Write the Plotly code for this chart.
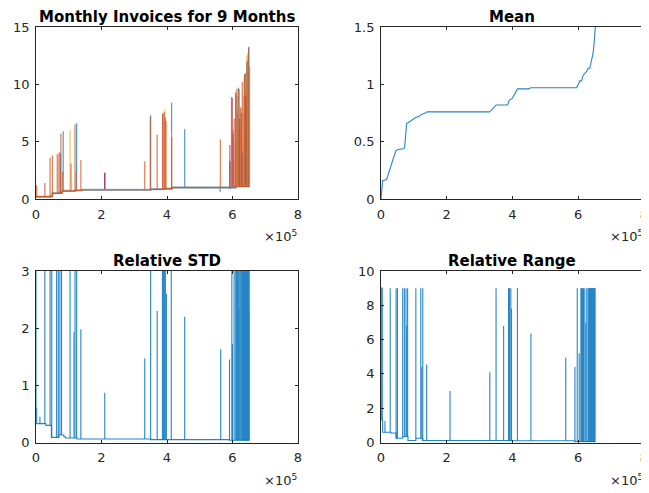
import numpy as np
import plotly.graph_objects as go

# x values are in units of 1e5 (axis shows x10^5)
SCALE = 1e5

# ---------- Panel 1: Monthly invoices (9 series, spikes + baseline) ----------
inv_base_x = [0, 0.05, 0.45, 0.5, 0.75, 0.8, 1.2, 1.4, 3.5, 3.9, 4.15, 5.95, 6.1, 6.5]
inv_base_y = [0.2, 0.2, 0.25, 0.5, 0.55, 0.7, 0.75, 0.8, 0.85, 0.9, 1.0, 1.0, 1.1, 1.2]

inv_blue_x = [0.75, 0.83, 1.24, 3.5, 3.95, 4.14, 4.54, 5.62, 5.92, 6.1, 6.18, 6.3, 6.37, 6.43, 6.49]
inv_blue_h = [4.0, 5.9, 6.6, 7.3, 7.1, 8.4, 6.1, 0.6, 3.3, 9.2, 9.7, 4.0, 10.9, 12.0, 13.2]
inv_yellow_x = [1.04, 3.93, 4.14, 6.2, 6.35, 6.44]
inv_yellow_h = [6.0, 7.8, 5.8, 9.5, 10.5, 12.5]
inv_purple_x = [2.1, 5.92, 6.02, 6.27]
inv_purple_h = [2.3, 4.7, 5.7, 7.5]
inv_green_x = [5.93, 6.3]
inv_green_h = [0.8, 1.5]
inv_lightblue_x = [6.15, 6.47]
inv_lightblue_h = [9.0, 12.2]
inv_red_x = [2.1, 3.87, 5.99, 6.22, 6.4]
inv_red_h = [2.3, 7.4, 8.8, 7.0, 9.0]
inv_orange_x = [0.02, 0.27, 0.43, 0.5, 0.65, 0.7, 0.73, 0.76, 0.81, 1.07, 1.19, 1.22, 1.37,
                3.32, 3.49, 3.7, 3.88, 3.92, 3.97, 4.14, 5.63, 5.92, 5.97, 6.02, 6.05, 6.06,
                6.08, 6.1, 6.12, 6.13, 6.15, 6.16, 6.19, 6.2, 6.23, 6.25, 6.26, 6.28, 6.3,
                6.32, 6.33, 6.35, 6.37, 6.39, 6.4, 6.42, 6.44, 6.45, 6.47, 6.48, 6.5, 6.52]
inv_orange_h = [1.2, 1.4, 3.6, 3.8, 3.9, 4.0, 4.1, 5.7, 2.4, 3.1, 6.5, 2.4, 3.4,
                3.3, 7.1, 5.6, 7.5, 7.6, 6.8, 5.4, 5.2, 3.3, 8.9, 6.0, 7.0, 3.2,
                5.0, 9.3, 8.0, 9.6, 7.5, 5.0, 6.0, 9.6, 7.8, 8.0, 7.9, 6.0, 10.2,
                9.0, 4.5, 7.5, 10.9, 8.0, 11.0, 7.8, 9.5, 12.0, 10.0, 12.7, 13.3, 11.5]

# ---------- Panel 2: Mean (step curve) ----------
mean_x = [0, 0.02, 0.05, 0.17, 0.45, 0.5, 0.7, 0.72, 0.78, 0.85, 1.05, 1.15, 1.25, 1.35, 1.4,
          3.3, 3.35, 3.5, 3.85, 3.9, 4.0, 4.15, 4.5, 4.55, 5.95, 6.0, 6.05, 6.1, 6.15,
          6.25, 6.3, 6.35, 6.4, 6.45, 6.48, 6.52]
mean_y = [0.0, 0.1, 0.16, 0.17, 0.42, 0.43, 0.44, 0.45, 0.66, 0.67, 0.71, 0.72, 0.74, 0.75, 0.76,
          0.76, 0.77, 0.82, 0.82, 0.86, 0.88, 0.96, 0.96, 0.97, 0.97, 1.0, 1.03, 1.03, 1.08,
          1.11, 1.14, 1.14, 1.2, 1.27, 1.35, 1.5]

# ---------- Panel 3: Relative STD ----------
std_base_x = [0, 0.02, 0.3, 0.47, 0.7, 0.85, 0.9, 1.25, 3.5, 5.9, 6.52]
std_base_y = [0.6, 0.33, 0.3, 0.09, 0.13, 0.1, 0.08, 0.06, 0.05, 0.04, 0.04]
std_spike_x = [0.0, 0.12, 0.27, 0.43, 0.48, 0.63, 0.68, 0.73, 0.78, 1.04, 1.16, 1.19, 1.24, 1.37,
               2.1, 3.32, 3.5, 3.7, 3.86, 3.89, 3.92, 3.95, 3.98, 4.13, 4.54, 5.64, 5.91, 5.98,
               6.0, 6.05, 6.1, 6.12, 6.15, 6.18, 6.2, 6.22, 6.25, 6.28, 6.3, 6.32, 6.33, 6.34,
               6.35, 6.36, 6.37, 6.38, 6.39, 6.4, 6.41, 6.42, 6.43, 6.44, 6.45, 6.46, 6.47,
               6.48, 6.49, 6.5, 6.51]
std_spike_h = [3.0, 0.45, 3.0, 3.0, 3.0, 3.0, 3.0, 3.0, 3.0, 3.0, 1.93, 3.0, 3.0, 1.98,
               0.87, 1.47, 3.0, 2.3, 3.0, 3.0, 3.0, 3.0, 2.6, 3.0, 2.2, 1.63, 1.45, 3.0,
               1.72, 3.0, 3.0, 3.0, 3.0, 3.0, 2.35, 3.0, 3.0, 3.0, 3.0, 3.0, 3.0, 3.0,
               3.0, 3.0, 3.0, 3.0, 3.0, 3.0, 3.0, 3.0, 3.0, 3.0, 3.0, 3.0, 3.0,
               3.0, 3.0, 2.3, 3.0]

# ---------- Panel 4: Relative Range ----------
rng_base_x = [0, 0.03, 0.05, 0.3, 0.46, 0.66, 0.82, 1.06, 1.27, 3.95, 5.9, 6.52]
rng_base_y = [9.0, 1.3, 0.6, 0.55, 0.25, 0.35, 0.12, 0.25, 0.12, 0.1, 0.05, 0.05]
rng_spike_x = [0.03, 0.12, 0.28, 0.46, 0.5, 0.66, 0.71, 0.76, 0.78, 0.81, 1.06, 1.21, 1.24, 1.27,
               1.39, 2.1, 3.31, 3.5, 3.73, 3.88, 3.91, 3.95, 3.97, 4.15, 4.56, 5.62, 5.9,
               5.97, 6.03, 6.08, 6.1, 6.13, 6.16, 6.2, 6.23, 6.26, 6.3, 6.32, 6.33, 6.34, 6.35,
               6.36, 6.37, 6.38, 6.39, 6.4, 6.41, 6.42, 6.43, 6.44, 6.45, 6.46, 6.47, 6.48,
               6.49, 6.5, 6.51]
rng_spike_h = [9.0, 1.25, 9.0, 9.0, 9.0, 9.0, 9.0, 9.0, 6.8, 9.0, 9.0, 9.0, 4.4, 9.0,
               4.55, 3.0, 4.1, 9.0, 6.8, 9.0, 9.0, 9.0, 7.8, 9.0, 6.35, 4.95, 4.4,
               9.0, 5.2, 9.0, 9.0, 9.0, 9.0, 9.0, 7.0, 9.0, 9.0, 9.0, 9.0, 9.0, 9.0,
               9.0, 9.0, 9.0, 9.0, 9.0, 9.0, 9.0, 9.0, 9.0, 9.0, 9.0, 9.0, 9.0,
               9.0, 9.0, 9.0]

x_ticks = [0, 2, 4, 6, 8]
titles = ["Monthly Invoices for 9 Months", "Mean", "Relative STD", "Relative Range"]

MBLUE = "#0072BD"
MORANGE = "#D95319"
MYELLOW = "#EDB120"
MPURPLE = "#7E2F8E"
MGREEN = "#77AC30"
MLBLUE = "#4DBEEE"
MRED = "#A2142F"


def step_lookup(bx, by, x):
    i = np.searchsorted(np.array(bx), x, side="right") - 1
    i = max(0, min(i, len(by) - 1))
    return by[i]


def spike_xy(xs, hs, bx, by):
    X, Y = [], []
    for x, h in zip(xs, hs):
        b = step_lookup(bx, by, x)
        X += [x * SCALE, x * SCALE, None]
        Y += [b, h, None]
    return X, Y


fig = go.Figure()

# Panel 1
for (xs, hs, col, w) in [
    (inv_blue_x, inv_blue_h, MBLUE, 1.2),
    (inv_yellow_x, inv_yellow_h, MYELLOW, 1.2),
    (inv_purple_x, inv_purple_h, MPURPLE, 1.2),
    (inv_green_x, inv_green_h, MGREEN, 1.2),
    (inv_lightblue_x, inv_lightblue_h, MLBLUE, 1.2),
    (inv_red_x, inv_red_h, MRED, 1.2),
    (inv_orange_x, inv_orange_h, MORANGE, 1.3),
]:
    X, Y = spike_xy(xs, hs, inv_base_x, inv_base_y)
    fig.add_trace(go.Scatter(x=X, y=Y, mode="lines", line=dict(color=col, width=w),
                             opacity=0.7, xaxis="x", yaxis="y", showlegend=False))
fig.add_trace(go.Scatter(x=[v * SCALE for v in inv_base_x], y=inv_base_y, mode="lines",
                         line=dict(color=MLBLUE, width=2.2, shape="hv"), opacity=0.6,
                         xaxis="x", yaxis="y", showlegend=False))
fig.add_trace(go.Scatter(x=[v * SCALE for v in inv_base_x], y=inv_base_y, mode="lines",
                         line=dict(color="#C8501E", width=1.4, shape="hv"), opacity=0.9,
                         xaxis="x", yaxis="y", showlegend=False))

# Panel 2
fig.add_trace(go.Scatter(x=[v * SCALE for v in mean_x], y=mean_y, mode="lines",
                         line=dict(color=MBLUE, width=1.1), opacity=0.85,
                         xaxis="x2", yaxis="y2", showlegend=False))

# Panel 3
fig.add_trace(go.Scatter(x=[v * SCALE for v in std_base_x], y=std_base_y, mode="lines",
                         line=dict(color=MBLUE, width=1.1, shape="hv"), opacity=0.85,
                         xaxis="x3", yaxis="y3", showlegend=False))
X, Y = spike_xy(std_spike_x, std_spike_h, std_base_x, std_base_y)
fig.add_trace(go.Scatter(x=X, y=Y, mode="lines", line=dict(color=MBLUE, width=1.1),
                         opacity=0.85, xaxis="x3", yaxis="y3", showlegend=False))

# Panel 4
fig.add_trace(go.Scatter(x=[v * SCALE for v in rng_base_x], y=rng_base_y, mode="lines",
                         line=dict(color=MBLUE, width=1.1, shape="hv"), opacity=0.85,
                         xaxis="x4", yaxis="y4", showlegend=False))
X, Y = spike_xy(rng_spike_x, rng_spike_h, rng_base_x, rng_base_y)
fig.add_trace(go.Scatter(x=X, y=Y, mode="lines", line=dict(color=MBLUE, width=1.1),
                         opacity=0.85, xaxis="x4", yaxis="y4", showlegend=False))

# The page body has an 8px margin, so the figure is sized to the window minus it
OFF = 8
W, H = 649 - OFF, 493 - OFF
FONT = "DejaVu Sans, Verdana, sans-serif"
AX = "#262626"


def px(v):
    return v - OFF


# pixel boxes in window coordinates: (left, right, top, bottom)
boxes = [(36, 298, 27, 199), (381, 644, 27, 199), (36, 298, 271, 442.5), (381, 644, 271, 442.5)]
title_y = [17, 17, 261, 261]
yranges = [[0, 15], [0, 1.5], [0, 3], [0, 10]]
yticks = [[0, 5, 10, 15], [0, 0.5, 1, 1.5], [0, 1, 2, 3], [0, 2, 4, 6, 8, 10]]

layout = dict(width=W, height=H, autosize=False,
              margin=dict(l=0, r=0, t=0, b=0, pad=0, autoexpand=False),
              paper_bgcolor="white", plot_bgcolor="white",
              font=dict(family=FONT, size=13, color=AX), annotations=[])
for i, (l, r, t, b) in enumerate(boxes):
    sfx = "" if i == 0 else str(i + 1)
    common = dict(showline=True, linecolor=AX, linewidth=0.8, mirror="ticks", ticks="inside",
                  ticklen=3, tickcolor=AX, tickwidth=0.8, showgrid=False, zeroline=False,
                  automargin=False, ticklabeloverflow="allow",
                  tickfont=dict(family=FONT, size=13, color=AX), ticklabelstandoff=3)
    layout["xaxis" + sfx] = dict(domain=[px(l) / W, px(r) / W], range=[0, 8 * SCALE],
                                 tickvals=[v * SCALE for v in x_ticks],
                                 ticktext=[str(v) for v in x_ticks],
                                 anchor="y" + sfx, **common)
    layout["yaxis" + sfx] = dict(domain=[1 - px(b) / H, 1 - px(t) / H], range=yranges[i],
                                 tickvals=yticks[i], ticktext=[str(v) for v in yticks[i]],
                                 anchor="x" + sfx, **common)
    layout["annotations"].append(dict(text="<b>" + titles[i] + "</b>", xref="paper", yref="paper",
                                      x=px((l + r) / 2) / W, y=1 - px(title_y[i]) / H,
                                      xanchor="center", yanchor="middle", showarrow=False,
                                      font=dict(family=FONT, size=15, color="black")))
    layout["annotations"].append(dict(text="×10<sup>5</sup>", xref="paper", yref="paper",
                                      x=px(r + 1) / W, y=1 - px(b + 47) / H, xanchor="right",
                                      yanchor="bottom", showarrow=False,
                                      font=dict(family=FONT, size=13, color=AX)))

fig.update_layout(**layout)
fig.write_html("out.html", config={"responsive": False})
